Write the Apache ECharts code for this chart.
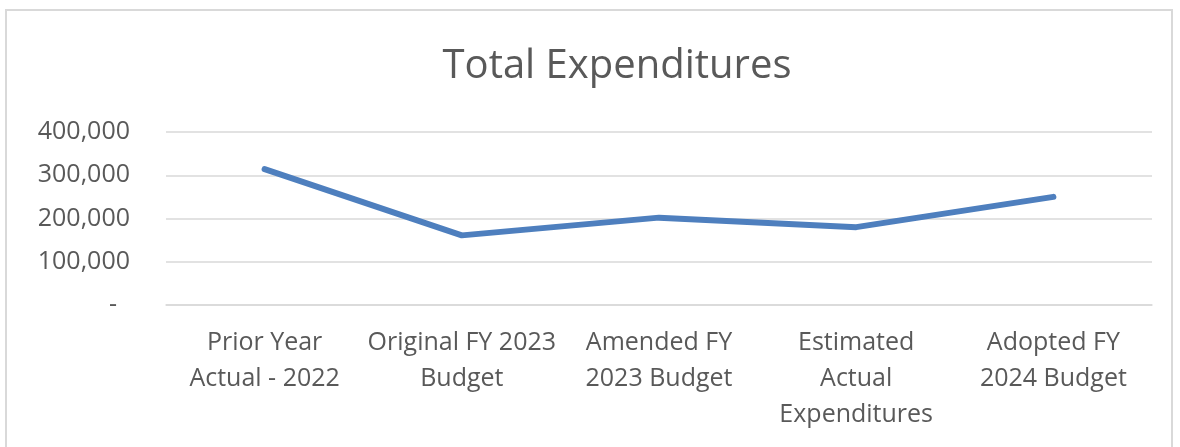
<!DOCTYPE html>
<html>
<head>
<meta charset="utf-8">
<script src="https://cdn.jsdelivr.net/npm/echarts@6/dist/echarts.min.js"></script>
<style>
  html, body { margin: 0; padding: 0; background: #fff; }
  #chart { width: 1180px; height: 447px; }
</style>
</head>
<body>
<div id="chart"></div>
<script>
// 数据
const categories = [
  'Prior Year\nActual - 2022',
  'Original FY 2023\nBudget',
  'Amended FY\n2023 Budget',
  'Estimated\nActual\nExpenditures',
  'Adopted FY\n2024 Budget'
]
const expenditures = [314000, 161000, 202000, 180000, 250000]
const yTicks = [0, 100000, 200000, 300000, 400000]

const fontFamily = 'Open Sans'
const textColor = '#595959'
const gridColor = '#d9d9d9'

const chart = echarts.init(document.getElementById('chart'))
chart.setOption({
  animation: false,
  title: {
    text: 'Total Expenditures',
    left: 612,
    textAlign: 'center',
    top: 42,
    textStyle: { fontFamily, fontSize: 40, fontWeight: 'normal', color: textColor }
  },
  // 外框
  graphic: [{
    type: 'rect',
    shape: { x: 6, y: 10, width: 1166, height: 460 },
    style: { fill: 'none', stroke: gridColor, lineWidth: 2 }
  }],
  grid: { left: 166, right: 28, top: 132, bottom: 142 },
  xAxis: {
    type: 'category',
    data: categories,
    boundaryGap: true,
    axisLine: { lineStyle: { color: gridColor, width: 1.5 } },
    axisTick: { show: false },
    axisLabel: {
      margin: 20,
      interval: 0,
      fontFamily,
      fontSize: 25,
      lineHeight: 36,
      color: textColor
    }
  },
  yAxis: {
    type: 'value',
    min: yTicks[0],
    max: yTicks[yTicks.length - 1],
    interval: 100000,
    axisLine: { show: false },
    axisTick: { show: false },
    splitLine: { lineStyle: { color: gridColor, width: 1.5 } },
    axisLabel: {
      margin: 36,
      fontFamily,
      fontSize: 25,
      color: textColor,
      formatter: v => v === 0 ? '{d|-}' : v.toLocaleString('en-US'),
      rich: {
        d: { fontFamily, fontSize: 25, color: textColor, padding: [0, 13, 0, 0] }
      }
    }
  },
  series: [{
    type: 'line',
    data: expenditures,
    symbol: 'none',
    lineStyle: { color: '#4e7fbe', width: 6, cap: 'round', join: 'round' }
  }]
})
</script>
</body>
</html>
